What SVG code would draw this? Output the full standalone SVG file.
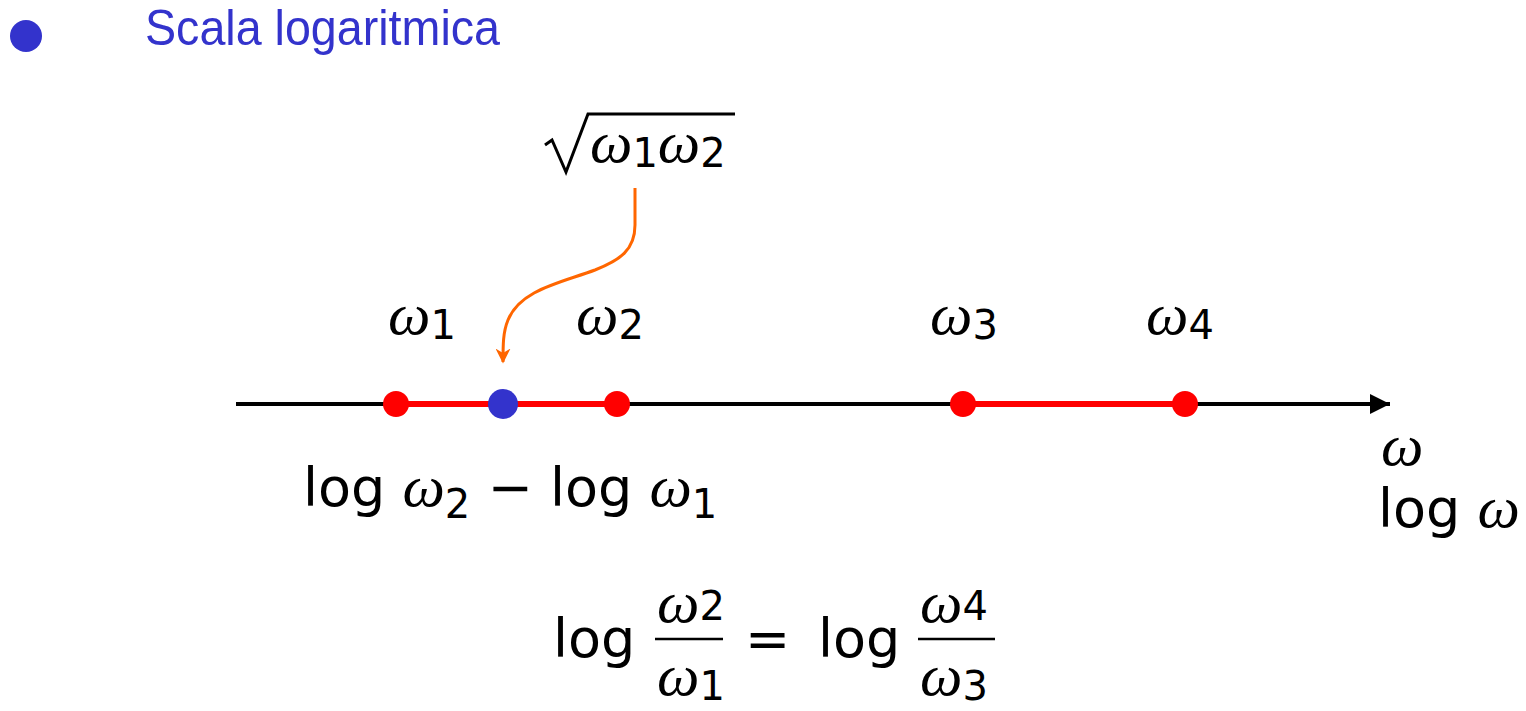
<svg xmlns="http://www.w3.org/2000/svg" width="1526" height="711" viewBox="0 0 1526 711">
<style>
.t{font-family:"Liberation Sans",Arial,sans-serif;font-size:50px;fill:#3333CC}
.m{font-family:"DejaVu Sans","Liberation Sans",sans-serif;font-size:54px;fill:#000}
.w{font-family:"Liberation Serif","DejaVu Serif",serif;font-style:italic;font-size:60px;fill:#000}
.s{font-family:"DejaVu Sans","Liberation Sans",sans-serif;font-size:40px;fill:#000}
.red{fill:#FF0000}
</style>
<defs>
<marker id="ab" viewBox="0 0 10 10" refX="10" refY="5" markerWidth="5" markerHeight="5" orient="auto" markerUnits="strokeWidth"><path d="M0,0 L10,5 L0,10 z" fill="#000"/></marker>
<marker id="ao" viewBox="0 0 10 10" refX="9" refY="5" markerWidth="5" markerHeight="5" orient="auto" markerUnits="strokeWidth"><path d="M0,0 L10,5 L0,10 L3,5 z" fill="#FF6600"/></marker>
</defs>
<g id="title">
<circle cx="26" cy="36" r="16" fill="#3333CC"/>
<text class="t" x="145" y="45" textLength="355" lengthAdjust="spacingAndGlyphs">Scala logaritmica</text>
</g>
<g id="connectors">
<line x1="236" y1="404" x2="1390" y2="404" stroke="#000" stroke-width="4" marker-end="url(#ab)"/>
<line x1="396" y1="404" x2="617" y2="404" stroke="#FF0000" stroke-width="6"/>
<line x1="963" y1="404" x2="1185" y2="404" stroke="#FF0000" stroke-width="6"/>
<path d="M635,188 L635,225 C635,250 620,260 595,270 C560,283 520,290 508,320 C503,332 503,345 503,362" fill="none" stroke="#FF6600" stroke-width="3" marker-end="url(#ao)"/>
</g>
<g id="points">
<circle cx="396" cy="404" r="13" class="red"/>
<circle cx="617" cy="404" r="13" class="red"/>
<circle cx="963" cy="404" r="13" class="red"/>
<circle cx="1185" cy="404" r="13" class="red"/>
<circle cx="503" cy="404" r="15" fill="#3333CC"/>
</g>
<g id="labels">
<text x="388" y="334"><tspan class="w">ω</tspan><tspan class="s" dy="5">1</tspan></text>
<text x="576" y="334"><tspan class="w">ω</tspan><tspan class="s" dy="5">2</tspan></text>
<text x="930" y="334"><tspan class="w">ω</tspan><tspan class="s" dy="5">3</tspan></text>
<text x="1146" y="334"><tspan class="w">ω</tspan><tspan class="s" dy="5">4</tspan></text>
</g>
<g id="sqrt">
<path d="M545,145 L552,140 L566,172 L588,114 L735,114" fill="none" stroke="#000" stroke-width="3"/>
<text x="590" y="162"><tspan class="w">ω</tspan><tspan class="s" dy="5">1</tspan><tspan class="w" dy="-5">ω</tspan><tspan class="s" dy="5">2</tspan></text>
</g>
<g id="difference">
<text x="303" y="506"><tspan class="m">log </tspan><tspan class="w">ω</tspan><tspan class="s" dy="12">2</tspan><tspan class="m" dy="-12"> − log </tspan><tspan class="w">ω</tspan><tspan class="s" dy="12">1</tspan></text>
</g>
<g id="axislabel">
<text class="w" x="1381" y="465">ω</text>
<text x="1378" y="527"><tspan class="m">log </tspan><tspan class="w">ω</tspan></text>
</g>
<g id="equation">
<text class="m" x="553" y="657">log</text>
<text x="657" y="622"><tspan class="w">ω</tspan><tspan class="s" dy="-2">2</tspan></text>
<line x1="655" y1="639" x2="723" y2="639" stroke="#000" stroke-width="2.5"/>
<text x="657" y="695"><tspan class="w">ω</tspan><tspan class="s" dy="5">1</tspan></text>
<text class="m" x="745" y="657">=</text>
<text class="m" x="818" y="657">log</text>
<text x="920" y="622"><tspan class="w">ω</tspan><tspan class="s" dy="-2">4</tspan></text>
<line x1="918" y1="639" x2="995" y2="639" stroke="#000" stroke-width="2.5"/>
<text x="920" y="695"><tspan class="w">ω</tspan><tspan class="s" dy="5">3</tspan></text>
</g>
</svg>
